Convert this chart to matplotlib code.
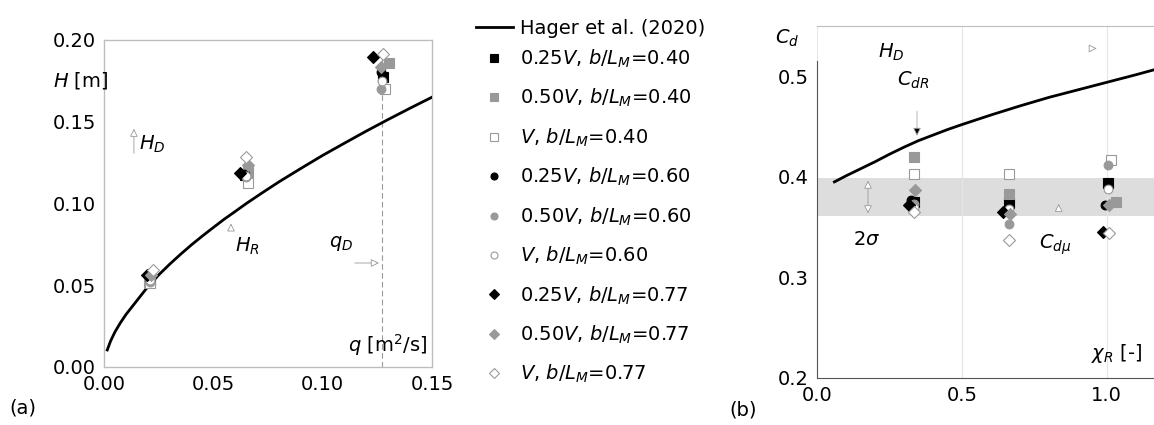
import numpy as np
import matplotlib
matplotlib.use("Agg")
from matplotlib import pyplot as plt
from matplotlib.lines import Line2D

plt.rcParams['font.family'] = ['DejaVu Sans']
plt.rcParams['mathtext.fontset'] = 'dejavusans'
plt.rcParams['font.size'] = 14

# Hager et al. (2020) curves
q_hager = [0.0015, 0.003, 0.005, 0.0075, 0.01, 0.015, 0.02, 0.025, 0.03, 0.035, 0.04, 0.045,
           0.05, 0.055, 0.06, 0.065, 0.072, 0.08, 0.09, 0.1, 0.11, 0.12, 0.13, 0.14, 0.15]
H_hager = [0.0104, 0.0158, 0.0214, 0.027, 0.032, 0.0405, 0.049, 0.0563, 0.0628, 0.0689, 0.0747, 0.0801,
           0.0853, 0.0904, 0.0951, 0.0999, 0.1062, 0.1132, 0.1214, 0.1294, 0.1369, 0.1443, 0.1514, 0.1583, 0.165]
chi_hager = [0.06, 0.1, 0.15, 0.2, 0.25, 0.3, 0.35, 0.4, 0.45, 0.5, 0.6, 0.7, 0.8, 0.9, 1.0, 1.1, 1.17]
Cd_hager = [0.395, 0.401, 0.408, 0.415, 0.4225, 0.4295, 0.436, 0.4415, 0.447, 0.452, 0.4615,
            0.4705, 0.479, 0.4865, 0.494, 0.5015, 0.507]

labels = ["0.25$V$, $b/L_M$=0.40", "0.50$V$, $b/L_M$=0.40", "$V$, $b/L_M$=0.40",
          "0.25$V$, $b/L_M$=0.60", "0.50$V$, $b/L_M$=0.60", "$V$, $b/L_M$=0.60",
          "0.25$V$, $b/L_M$=0.77", "0.50$V$, $b/L_M$=0.77", "$V$, $b/L_M$=0.77"]

# (a) head H [m] against unit discharge q [m2/s]
q_data = [[0.0210, 0.0645, 0.1275],
          [0.0207, 0.0660, 0.1305],
          [0.0212, 0.0660, 0.1285],
          [0.0210, 0.0645, 0.1268],
          [0.0212, 0.0650, 0.1265],
          [0.0212, 0.0650, 0.1270],
          [0.0198, 0.0622, 0.1232],
          [0.0216, 0.0657, 0.1265],
          [0.0224, 0.0649, 0.1277]]
H_data = [[0.0525, 0.1174, 0.1776],
          [0.0522, 0.1190, 0.1857],
          [0.0515, 0.1127, 0.1700],
          [0.0530, 0.1180, 0.1806],
          [0.0520, 0.1160, 0.1699],
          [0.0530, 0.1170, 0.1750],
          [0.0565, 0.1185, 0.1894],
          [0.0563, 0.1235, 0.1837],
          [0.0595, 0.1283, 0.1914]]

# (b) discharge coefficient Cd against chi_R
chi_data = [[0.333, 0.663, 1.005],
            [0.333, 0.663, 1.031],
            [0.333, 0.663, 1.013],
            [0.325, 0.663, 0.995],
            [0.333, 0.663, 1.005],
            [0.333, 0.663, 1.005],
            [0.318, 0.642, 0.987],
            [0.338, 0.667, 1.007],
            [0.333, 0.663, 1.008]]
Cd_data = [[0.375, 0.374, 0.394],
           [0.420, 0.3834, 0.375],
           [0.4033, 0.4026, 0.4165],
           [0.3768, 0.370, 0.3725],
           [0.373, 0.3536, 0.4122],
           [0.369, 0.368, 0.388],
           [0.3718, 0.3652, 0.3455],
           [0.3874, 0.3635, 0.3718],
           [0.3652, 0.3377, 0.3445]]

q_D = 0.127
Cd_mu = 0.380
sigma = 0.019

markers = ['s', 's', 's', 'o', 'o', 'o', 'D', 'D', 'D']
fills = ['k', '#999999', 'white'] * 3
edges = ['k', '#999999', '#9a9a9a'] * 3
sizes = [6.5, 6.5, 6.5, 6.3, 6.3, 6.3, 6, 6, 6]

fig = plt.figure(figsize=(11.54, 4.25), dpi=100)
ax1 = fig.add_axes([0.0901, 0.1365, 0.2842, 0.7694])
ax2 = fig.add_axes([0.708, 0.1106, 0.292, 0.8282])

# ---- (a)
ax1.plot(q_hager, H_hager, color='k', lw=2, zorder=3)
ax1.plot([q_D, q_D], [0, 0.192], color='#999999', lw=0.8, ls=(0, (5, 3)), zorder=1)
handles = []
for i in range(9):
    ax1.plot(q_data[i], H_data[i], ls='none', marker=markers[i], ms=sizes[i],
             mfc=fills[i], mec=edges[i], mew=0.8, zorder=4 + i)
    h, = ax2.plot(chi_data[i], Cd_data[i], ls='none', marker=markers[i], ms=sizes[i],
                  mfc=fills[i], mec=edges[i], mew=0.8, zorder=4 + i)
    handles.append(h)

ax1.set_xlim(0, 0.15)
ax1.set_ylim(0, 0.2)
ax1.set_xticks([0, 0.05, 0.10, 0.15])
ax1.set_xticklabels(['0.00', '0.05', '0.10', '0.15'])
ax1.set_yticks([0, 0.05, 0.10, 0.15, 0.20])
ax1.set_yticklabels(['0.00', '0.05', '0.10', '0.15', '0.20'])
ax1.tick_params(length=0, pad=6)
for s in ax1.spines.values():
    s.set_color('#bdbdbd')
    s.set_linewidth(1)

hollow = dict(arrowstyle='-|>', fc='white', ec='#999999', lw=0.6, mutation_scale=12)
ax1.text(-0.0233, 0.1755, '$H$ [m]', ha='left', va='center', clip_on=False)
ax1.annotate('', xy=(0.0137, 0.1474), xytext=(0.0137, 0.129), arrowprops=hollow)
ax1.text(0.0160, 0.136, '$H_D$', ha='left', va='center')
ax1.annotate('', xy=(0.0581, 0.0895), xytext=(0.0581, 0.0845), arrowprops=hollow)
ax1.text(0.0600, 0.0735, '$H_R$', ha='left', va='center')
ax1.annotate('', xy=(q_D, 0.0636), xytext=(0.1134, 0.0636), arrowprops=hollow)
ax1.text(0.1030, 0.0755, '$q_D$', ha='left', va='center')
ax1.text(0.1115, 0.0135, '$q$ [m$^2$/s]', ha='left', va='center')
fig.text(0.008, 0.04, '(a)', ha='left', va='center')

# ---- (b)
ax2.axhspan(Cd_mu - sigma, Cd_mu + sigma, color='#dcdddc', lw=0, zorder=0)
ax2.plot(chi_hager, Cd_hager, color='k', lw=2, zorder=3)
ax2.set_xlim(0, 1.163)
ax2.set_ylim(0.2, 0.55)
ax2.set_xticks([0, 0.5, 1.0])
ax2.set_xticklabels(['0.0', '0.5', '1.0'])
ax2.set_yticks([0.2, 0.3, 0.4, 0.5])
ax2.tick_params(length=0, pad=6)
ax2.grid(axis='x', color='#e6e6e6', lw=0.8)
ax2.set_axisbelow(True)
ax2.spines['right'].set_visible(False)
ax2.spines['top'].set_color('#bdbdbd')
ax2.spines['left'].set_color('#555555')
ax2.spines['left'].set_bounds(0.2, 0.515)
ax2.spines['bottom'].set_color('#555555')

ax2.text(-0.145, 0.5376, '$C_d$', ha='left', va='center', clip_on=False)
ax2.text(0.21, 0.524, '$H_D$', ha='left', va='center')
ax2.annotate('', xy=(0.975, 0.5277), xytext=(0.94, 0.5277), arrowprops=hollow)
ax2.text(0.275, 0.496, '$C_{dR}$', ha='left', va='center')
ax2.annotate('', xy=(0.345, 0.438), xytext=(0.345, 0.468),
             arrowprops=dict(arrowstyle='-|>', fc='k', ec='#aaaaaa', lw=0.6, mutation_scale=12))
ax2.annotate('', xy=(0.176, Cd_mu + sigma), xytext=(0.176, Cd_mu - sigma),
             arrowprops=dict(arrowstyle='<|-|>', fc='white', ec='#999999', lw=0.6, mutation_scale=12))
ax2.text(0.125, 0.338, '2$\\sigma$', ha='left', va='center')
ax2.annotate('', xy=(0.834, 0.376), xytext=(0.834, 0.366), arrowprops=hollow)
ax2.text(0.765, 0.332, '$C_{d\\mu}$', ha='left', va='center')
ax2.text(0.945, 0.224, '$\\chi_R$ [-]', ha='left', va='center')
fig.text(0.632, 0.035, '(b)', ha='left', va='center')

leg_opts = dict(loc='upper left', frameon=False, fontsize=14, handlelength=1.9,
                handletextpad=0.35, labelspacing=0.88, borderpad=0, borderaxespad=0,
                markerscale=0.8, numpoints=1)
fig.legend([Line2D([], [], color='k', lw=2)], ['Hager et al. (2020)'],
           bbox_to_anchor=(0.4125, 0.956), **leg_opts)
fig.legend(handles, labels, bbox_to_anchor=(0.4125, 0.8876), **leg_opts)

fig.savefig('out.png', dpi=100)
